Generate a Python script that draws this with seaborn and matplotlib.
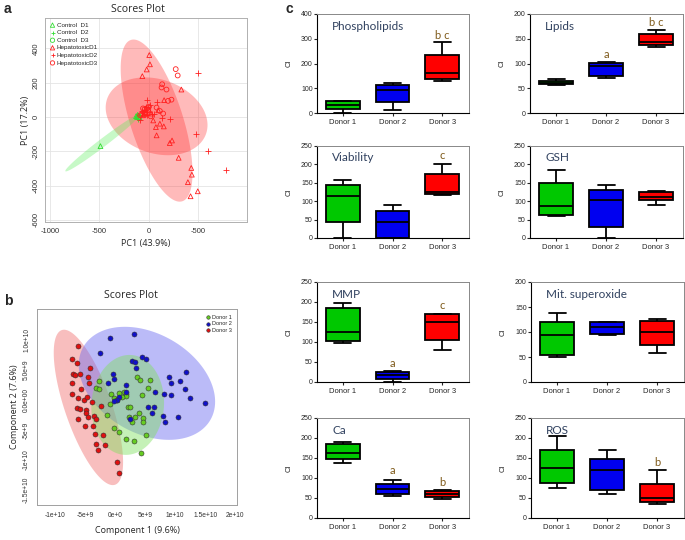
import numpy as np
import pandas as pd
import matplotlib
matplotlib.use("Agg")
import matplotlib.pyplot as plt
import seaborn as sns

sns.set_style("white")
plt.rcParams['font.family'] = ['Liberation Sans', 'DejaVu Sans']

# ---------------- panel a : PCA scores ----------------
ctrl_d1_x = [-120, -105, -95, -130, -115, -490]
ctrl_d1_y = [0, 8, -5, 5, 12, -170]
ctrl_d2_x = [-110, -90]
ctrl_d2_y = [-10, 5]
ctrl_d3_x = [-100]
ctrl_d3_y = [-3]

hep_d1_x = [3, 10, -23, -67, 327, 153, 93, 43, 70, 77, 233, 210, 300, 427, 433, 393, 493, 420,
            -33, 20, 110, 150, -40, -60, 0, -80, -50, -30]
hep_d1_y = [361, 307, 277, 238, 160, 98, 39, -20, -59, -107, -137, -152, -238, -297, -336, -380, -433, -462,
            49, 20, -39, -55, 20, 10, 40, 20, 15, 30]
hep_d2_x = [500, 477, 593, 777, 127, 210, 77, -23, -90, 50, -50, -30, 10, 30, -70, -20]
hep_d2_y = [259, -98, -201, -308, -4, -10, 88, 98, -20, 20, 30, 60, 70, 15, 35, 10]
hep_d3_x = [270, 290, 133, 177, 127, 227, 193, 77, 110, 143, -7, 17, -40, -20, 0, -60, -45, -90]
hep_d3_y = [279, 242, 191, 160, 172, 101, 94, 55, 35, 20, 43, 4, 25, 50, 60, 50, 45, 10]

# confidence ellipses: centre and two conjugate semi-axes (data units)
ell_a_center = [(77, -21), (77, 4), (-467, -150)]
ell_a_u = [(-260, 470), (500, -101), (377, 166)]
ell_a_v = [(253, 48), (-120, -203), (24, -19)]
ell_a_color = ['#ff3030', '#ff3030', '#55ee55']

# ---------------- panel b : PLS-DA scores (units of 1e9) ----------------
donor1_x = [-2.7, -3.2, -2.7, -0.7, 0.7, 1.5, 1.9, 1.9, -0.1, 1.2, 0.4, -0.9, -1.3, 2.1, 2.5, 2.3,
            3.3, 2.8, 4.4, 3.6, 4.2, 5.8, 5.4, 4.0, 4.6, 4.6, -0.1, 0.6, 1.8, 3.2, 5.1, 4.3]
donor1_y = [3.2, 2.1, 1.9, 1.0, 1.2, 1.4, 1.0, 0.7, 0.4, 0.6, 0.1, -0.7, -2.5, -1.2, -1.1, -2.8,
            -2.8, -3.6, 0.9, 3.9, 3.3, 3.4, 2.1, -2.1, -3.0, -3.7, -4.7, -5.4, -6.5, -6.8, -5.9, -8.9]
donor2_x = [3.1, -0.9, -2.5, 2.9, 3.3, 4.4, 5.1, 3.5, -0.4, -0.1, -1.2, 1.8, 1.8, 0.7, 0.3, -0.1,
            5.4, 6.4, 6.2, 2.5, 6.7, 8.1, 9.3, 8.9, 9.3, 10.8, 11.8, 11.7, 12.5, 15.0, 7.9, 8.3, 10.4]
donor2_y = [11.1, 10.4, 7.8, 6.5, 6.4, 7.2, 6.8, 5.4, 4.4, 3.5, 2.8, 2.6, 1.3, 0.6, 0.0, -0.2,
            -1.1, -1.1, -2.1, -3.2, 1.3, 1.0, 0.8, 3.9, 2.8, 3.2, 4.7, 1.9, 0.3, -0.4, -2.6, -3.6, -2.8]
donor3_x = [-6.2, -7.1, -6.3, -4.2, -7.0, -6.7, -5.9, -4.5, -7.2, -4.4, -7.2, -6.1, -5.2, -4.6, -3.9,
            -6.4, -5.8, -4.8, -4.8, -4.5, -6.2, -3.5, -3.2, -5.0, -3.7, -2.4, -3.3, -2.0, -3.1, -2.9,
            -1.7, 0.3, 0.7, -5.6]
donor3_y = [9.0, 6.8, 6.2, 5.3, 4.3, 4.2, 4.3, 3.9, 2.9, 2.9, 1.1, 0.4, 0.1, 0.5, -0.3,
            -1.4, -1.5, -1.6, -2.2, -2.8, -3.1, -2.7, -3.1, -4.3, -4.3, -1.0, -5.7, -5.9, -7.4, -8.3,
            -7.5, -10.3, -12.1, 1.9]

ell_b_center = [(-4.44, -1.22), (5.3, 2.8), (2.1, -0.8)]
ell_b_u = [(4.44, -12.9), (10.57, -6.1), (-0.8, 8.2)]
ell_b_v = [(3.69, 1.27), (4.15, 7.19), (6.0, 1.5)]
ell_b_color = ['#f07070', '#6a6af0', '#80e060']

# ---------------- panel c : box plots (min, Q1, median, Q3, max) ----------------
donors = ["Donor 1", "Donor 2", "Donor 3"]
phospholipids = [[0, 16, 32, 48, 48], [12, 43, 92, 114, 121], [129, 137, 163, 236, 286]]
lipids = [[57, 58, 61, 65, 68], [70, 75, 95, 101, 104], [134, 137, 144, 159, 168]]
viability = [[0, 44, 115, 143, 158], [0, 0, 44, 74, 90], [116, 119, 126, 173, 201]]
gsh = [[60, 63, 86, 149, 186], [0, 29, 104, 130, 144], [91, 102, 112, 126, 128]]
mmp = [[98, 102, 125, 184, 198], [0, 8, 18, 25, 28], [80, 104, 149, 169, 169]]
mit_superoxide = [[51, 55, 95, 120, 139], [95, 97, 110, 120, 121], [58, 75, 100, 122, 126]]
ca = [[138, 147, 163, 185, 190], [55, 59, 72, 86, 95], [48, 52, 60, 68, 71]]
ros = [[74, 87, 124, 170, 205], [59, 70, 121, 147, 171], [35, 39, 51, 86, 121]]

box_colors = {'Donor 1': '#00c800', 'Donor 2': '#0000f0', 'Donor 3': '#ff0000'}
title_color = '#30415f'
letter_color = '#7f5a1a'

W, H = 685, 540
fig = plt.figure(figsize=(W / 100, H / 100), dpi=100)


def px_axes(l, t, r, b):
    return fig.add_axes([l / W, 1 - b / H, (r - l) / W, (b - t) / H])


def draw_ellipse(ax, c, u, v, color, alpha):
    t = np.linspace(0, 2 * np.pi, 200)
    xs = c[0] + u[0] * np.cos(t) + v[0] * np.sin(t)
    ys = c[1] + u[1] * np.cos(t) + v[1] * np.sin(t)
    ax.fill(xs, ys, color=color, alpha=alpha, lw=0, zorder=1)


# ---------- panel a ----------
ax = px_axes(45, 18, 247, 222)
for c, u, v, col in zip(ell_a_center, ell_a_u, ell_a_v, ell_a_color):
    draw_ellipse(ax, c, u, v, col, 0.33)
groups_a = [
    (ctrl_d1_x, ctrl_d1_y, '^', '#33dd33', 'Control  D1'),
    (ctrl_d2_x, ctrl_d2_y, '+', '#33dd33', 'Control  D2'),
    (ctrl_d3_x, ctrl_d3_y, 'o', '#33dd33', 'Control  D3'),
    (hep_d1_x, hep_d1_y, '^', '#ff2020', 'HepatotoxicD1'),
    (hep_d2_x, hep_d2_y, '+', '#ff2020', 'HepatotoxicD2'),
    (hep_d3_x, hep_d3_y, 'o', '#ff2020', 'HepatotoxicD3'),
]
for gx, gy, m, col, lab in groups_a:
    if m == '+':
        sns.scatterplot(x=gx, y=gy, marker=m, color=col, s=14, linewidth=0.6, label=lab, ax=ax, zorder=3)
    else:
        sns.scatterplot(x=gx, y=gy, marker=m, color=col, facecolors='none', edgecolors=col,
                        s=12, linewidth=0.6, label=lab, ax=ax, zorder=3)
ax.set_xlim(-1050, 990)
ax.set_ylim(-612, 577)
ax.set_xticks([-1000, -500, 0, 500])
ax.set_xticklabels(['-1000', '-500', '0', '-500'])
ax.set_yticks([-600, -400, -200, 0, 200, 400])
ax.set_yticklabels(['-600', '-400', '-200', '0', '200', '400'], rotation=90, va='center')
ax.tick_params(labelsize=5.5, length=2, colors='#333333', pad=2)
ax.grid(True, color='#e4e4e4', lw=0.6)
for s in ax.spines.values():
    s.set_color('#b0b0b0')
    s.set_linewidth(0.7)
ax.set_xlabel('PC1 (43.9%)', fontsize=6.5, labelpad=3, family='Open Sans')
ax.set_ylabel('PC1 (17.2%)', fontsize=6.5, labelpad=2, family='Open Sans')
ax.legend(loc='upper left', fontsize=4.5, frameon=False, handletextpad=0.2, labelspacing=0.35,
          borderaxespad=0.3, markerscale=0.9, handlelength=1)
fig.text(138 / W, 1 - 9 / H, 'Scores Plot', ha='center', va='center', fontsize=7.5, family='Open Sans')

# ---------- panel b ----------
ax = px_axes(37, 309, 237, 505)
for c, u, v, col in zip(ell_b_center, ell_b_u, ell_b_v, ell_b_color):
    draw_ellipse(ax, c, u, v, col, 0.45)
for gx, gy, col, lab in [(donor1_x, donor1_y, '#66cc22', 'Donor 1'),
                         (donor2_x, donor2_y, '#1010c8', 'Donor 2'),
                         (donor3_x, donor3_y, '#e01010', 'Donor 3')]:
    sns.scatterplot(x=gx, y=gy, color=col, s=13, edgecolor='#333333', linewidth=0.4,
                    label=lab, ax=ax, zorder=3)
ax.set_xlim(-13, 20.3)
ax.set_ylim(-17.5, 15.2)
ax.set_xticks([-10, -5, 0, 5, 10, 15, 20])
ax.set_xticklabels(['-1e+10', '-5e+9', '0e+0', '5e+9', '1e+10', '1.5e+10', '2e+10'])
ax.set_yticks([-15, -10, -5, 0, 5, 10])
ax.set_yticklabels(['-1.5e+10', '-1e+10', '-5e+9', '0.0e+00', '5.0e+9', '1.0e+10'],
                   rotation=90, va='center')
ax.tick_params(labelsize=4.8, length=2, colors='#333333', pad=3)
for s in ax.spines.values():
    s.set_color('#a0a0a0')
    s.set_linewidth(0.7)
ax.set_xlabel('Component 1 (9.6%)', fontsize=6.5, labelpad=5, family='Open Sans')
ax.set_ylabel('Component 2 (7.6%)', fontsize=6.5, labelpad=3, family='Open Sans')
ax.legend(loc='upper right', fontsize=4, frameon=False, handletextpad=0.1, labelspacing=0.3,
          borderaxespad=0.6, markerscale=0.7, handlelength=1)
fig.text(131 / W, 1 - 295 / H, 'Scores Plot', ha='center', va='center', fontsize=7.5, family='Open Sans')

# ---------- panel c ----------
panels = [
    ('Phospholipids', phospholipids, 400, 100, (317, 14, 469, 113), [(2, 314, 'b c')]),
    ('Lipids', lipids, 200, 50, (530, 14, 683, 113), [(1, 118, 'a'), (2, 182, 'b c')]),
    ('Viability', viability, 250, 50, (317, 146, 469, 238), [(2, 225, 'c')]),
    ('GSH', gsh, 250, 50, (530, 146, 683, 238), []),
    ('MMP', mmp, 250, 50, (317, 282, 469, 382), [(1, 47, 'a'), (2, 191, 'c')]),
    ('Mit. superoxide', mit_superoxide, 200, 50, (531, 282, 684, 382), []),
    ('Ca', ca, 250, 50, (317, 418, 469, 518), [(1, 120, 'a'), (2, 89, 'b')]),
    ('ROS', ros, 250, 50, (531, 418, 684, 518), [(2, 139, 'b')]),
]
for name, vals, ymax, step, box, letters in panels:
    ax = px_axes(*box)
    df = pd.DataFrame({'donor': np.repeat(donors, 5), 'CI': np.concatenate(vals)})
    sns.boxplot(data=df, x='donor', y='CI', hue='donor', order=donors, hue_order=donors,
                palette=box_colors, whis=(0, 100), width=0.68, linewidth=1.3, linecolor='black',
                fliersize=0, legend=False, saturation=1, ax=ax)
    ax.set_ylim(0, ymax)
    ax.set_xlim(-0.52, 2.54)
    ax.set_yticks(np.arange(0, ymax + 1, step))
    ax.tick_params(axis='y', labelsize=5, length=2, pad=1, left=True)
    ax.tick_params(axis='x', labelsize=5.5, length=2, pad=2, bottom=True)
    ax.set_xlabel('')
    ax.set_ylabel('CI', fontsize=5.5, labelpad=6)
    for side in ['left', 'bottom']:
        ax.spines[side].set_color('black')
        ax.spines[side].set_linewidth(0.8)
    for side in ['top', 'right']:
        ax.spines[side].set_color('#888888')
        ax.spines[side].set_linewidth(0.7)
    ax.text(0.1, 0.87, name, transform=ax.transAxes, fontsize=8.5, color=title_color,
            family='Lato', va='center', ha='left')
    for xi, yv, txt in letters:
        ax.text(xi, yv, txt, fontsize=8, color=letter_color, family='Lato', ha='center', va='center')

fig.text(4 / W, 1 - 9 / H, 'a', fontsize=10, weight='bold', va='center')
fig.text(4 / W, 1 - 301 / H, 'b', fontsize=10, weight='bold', va='center')
fig.text(286 / W, 1 - 9 / H, 'c', fontsize=10, weight='bold', va='center')

fig.savefig('out.png', dpi=100)
